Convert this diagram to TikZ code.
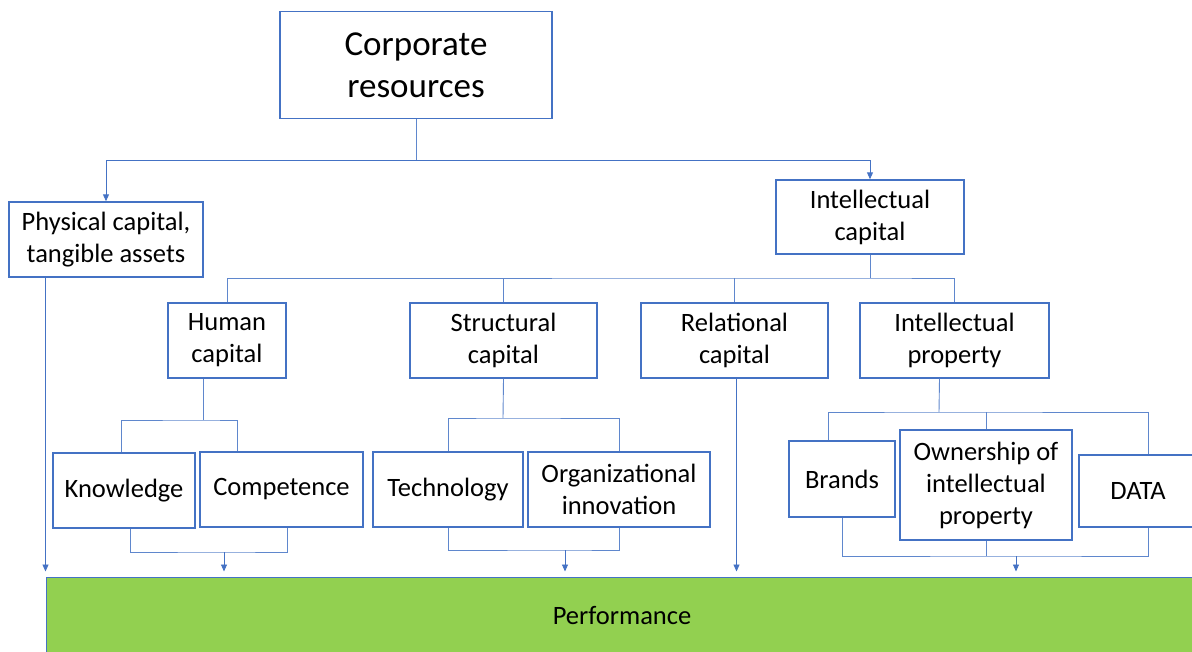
\documentclass[tikz,border=0pt]{standalone}
\usepackage{fontspec}
\setmainfont{Carlito}
\usetikzlibrary{arrows.meta}
\definecolor{boxblue}{RGB}{68,114,196}
\definecolor{linkblue}{RGB}{95,135,205}
\definecolor{perfgreen}{RGB}{146,208,80}

\begin{document}
\begin{tikzpicture}[x=1pt, y=-1pt,
    box/.style={draw=boxblue, line width=1.4pt, fill=white, inner sep=0pt, align=center,
      font=\fontsize{26.5}{32}\selectfont},
    link/.style={draw=linkblue, line width=0.9pt},
    tip/.style={link, -{Triangle[width=6pt,length=7pt]}, boxblue}]
  \useasboundingbox (0,0) rectangle (1192,651);
  \clip (0,0) rectangle (1192,651);

  \node[box, minimum width=272, minimum height=107, font=\fontsize{35}{42}\selectfont] (corp) at (416,65) {Corporate\\resources};
  \node[box, minimum width=194, minimum height=75] (phys) at (106,239.5) {Physical capital,\\tangible assets};
  \node[box, minimum width=188, minimum height=74] (intel) at (870,217) {Intellectual\\capital};

  \node[box, minimum width=118, minimum height=75] (hum) at (227,340.5) {Human\\capital};
  \node[box, minimum width=187, minimum height=75] (struct) at (503.5,340.5) {Structural\\capital};
  \node[box, minimum width=187, minimum height=75] (rel) at (734.5,340.5) {Relational\\capital};
  \node[box, minimum width=189, minimum height=75] (ip) at (954.5,340.5) {Intellectual\\property};

  \node[box, minimum width=142, minimum height=75] (know) at (124,490.5) {Knowledge};
  \node[box, minimum width=163, minimum height=75] (comp) at (281.5,489.5) {Competence};
  \node[box, minimum width=150, minimum height=75] (tech) at (448,489.5) {Technology};
  \node[box, minimum width=182, minimum height=75] (org) at (619,489.5) {Organizational\\innovation};
  \node[box, minimum width=106, minimum height=76] (brands) at (842,479) {Brands};
  \node[box, minimum width=172, minimum height=110] (own) at (986,485) {Ownership of\\intellectual\\property};
  \node[box, minimum width=118, minimum height=72] (data) at (1138,491) {DATA};

  \node[box, line width=1pt, fill=perfgreen, minimum width=1152, minimum height=78] (perf) at (622,616) {Performance};

  \coordinate (corpjoin) at (416,160);
  \coordinate (icjoin) at (870,278);
  \coordinate (humjoin) at (203,420);
  \coordinate (strjoin) at (503,418);
  \coordinate (ipjoin) at (939,412);
  \coordinate (kcjoin) at (224,552);
  \coordinate (tojoin) at (565,550);
  \coordinate (bodjoin) at (1016,556);

  \draw[link] (corp.south) -- (corpjoin);
  \draw[tip] (corpjoin) -| (phys.north);
  \draw[tip] (corpjoin) -| (intel.north);

  \draw[link] (intel.south) -- (icjoin);
  \draw[link] (hum.north) |- (icjoin) -| (ip.north);
  \draw[link] (struct.north) -- (struct.north |- icjoin);
  \draw[link] (rel.north) -- (rel.north |- icjoin);

  \draw[link] ([xshift=-24pt]hum.south) -- (humjoin);
  \draw[link] ([xshift=-3pt]know.north) |- (humjoin) -| ([xshift=-44pt]comp.north);
  \draw[link] (struct.south) -- (strjoin);
  \draw[link] (tech.north) |- (strjoin) -| (org.north);
  \draw[link] ([xshift=-15pt]ip.south) -- (ipjoin);
  \draw[link] ([xshift=-14pt]brands.north) |- (ipjoin) -| ([xshift=10pt]data.north);
  \draw[link] (own.north) -- (own.north |- ipjoin);

  \draw[link] ([xshift=6pt]know.south) |- (kcjoin) -| ([xshift=6pt]comp.south);
  \draw[link] (tech.south) |- (tojoin) -| (org.south);
  \draw[link] (brands.south) |- (bodjoin) -| ([xshift=10pt]data.south);
  \draw[link] (own.south) -- (own.south |- bodjoin);

  \draw[tip, shorten >=5pt] (phys.south -| perf.north west) -- (perf.north west);
  \draw[tip, shorten >=5pt] (kcjoin) -- (kcjoin |- perf.north);
  \draw[tip, shorten >=5pt] (tojoin) -- (tojoin |- perf.north);
  \draw[tip, shorten >=5pt] (bodjoin) -- (bodjoin |- perf.north);
  \draw[tip, shorten >=5pt] ([xshift=2pt]rel.south) -- ([xshift=2pt]rel.south |- perf.north);
\end{tikzpicture}
\end{document}
